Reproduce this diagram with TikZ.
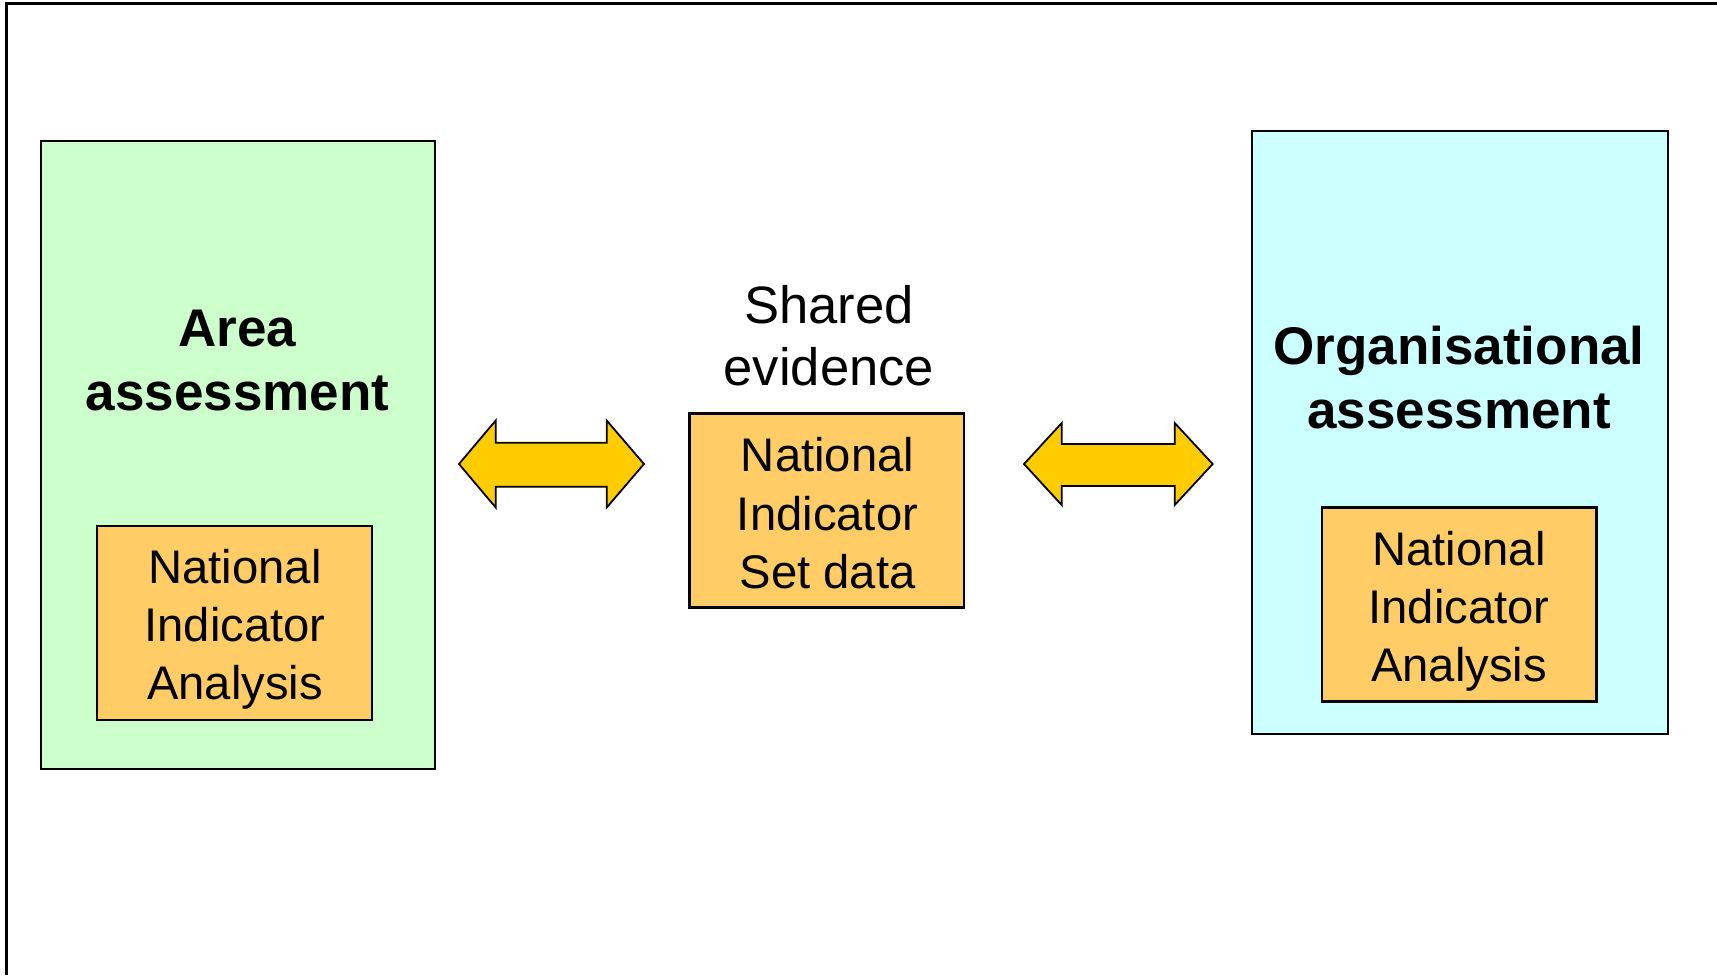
\documentclass[tikz,border=0pt]{standalone}
\usepackage{fontspec}
\setmainfont{Liberation Sans}
\usepackage{tikz}
\usetikzlibrary{positioning}

\definecolor{areagreen}{HTML}{CCFFCC}
\definecolor{orgcyan}{HTML}{CCFFFF}
\definecolor{nisorange}{HTML}{FFCC66}
\definecolor{arrowgold}{HTML}{FFCC00}

\tikzset{
  outerbox/.style={draw=black,line width=1pt,inner sep=0pt},
  nisbox/.style={draw=black,line width=1.1pt,fill=nisorange,inner sep=0pt,
    minimum width=137.3pt,minimum height=97pt},
  titletext/.style={inner sep=0pt,align=center,
    font=\fontsize{26.5pt}{32pt}\selectfont\bfseries},
  nistext/.style={inner sep=0pt,align=center,
    font=\fontsize{23.6pt}{28.9pt}\selectfont},
  blockarrow/.style={draw=black,line width=0.9pt,fill=arrowgold,line join=miter},
  frameline/.style={draw=black,line width=1.3pt}
}

\begin{document}
\begin{tikzpicture}[x=0.5pt,y=-0.5pt]
  \useasboundingbox (0,0) rectangle (1717,975);

  % slide frame
  \draw[frameline] (6.7,975) -- (6.7,3.3) -- (1717,3.3);

  % Left: area assessment
  \node[outerbox,fill=areagreen,minimum width=197.2pt,minimum height=314.2pt]
    (area) at (237.9,454.9) {};
  \node[titletext] (areatitle) at (237.5,361) {Area\\assessment};
  \node[nisbox] (areanis) at (234.5,623.2) {};
  \node[nistext] (areanistext) at (235,629.1) {National\\Indicator\\Analysis};

  % Middle: shared evidence
  \node[inner sep=0pt,align=center,font=\fontsize{26.3pt}{30.9pt}\selectfont]
    (shared) at (829,335.5) {Shared\\evidence};
  \node[nisbox] (setdata) at (826.8,510.4) {};
  \node[nistext,font=\fontsize{23.6pt}{29.2pt}\selectfont]
    (setdatatext) at (827.5,513.4) {National\\Indicator\\Set data};

  % Right: organisational assessment
  \node[outerbox,fill=orgcyan,minimum width=208.4pt,minimum height=301.7pt]
    (org) at (1460,432.7) {};
  \node[titletext] (orgtitle) at (1459,378) {Organisational\\assessment};
  \node[nisbox] (orgnis) at (1459.2,604.5) {};
  \node[nistext] (orgnistext) at (1459,611) {National\\Indicator\\Analysis};

  % two-way arrows
  \draw[blockarrow] (459,464) -- (495.7,420.5) -- (495.7,442.7) -- (606.7,442.7)
    -- (606.7,420.5) -- (644,464) -- (606.7,507.5) -- (606.7,486.7)
    -- (495.7,486.7) -- (495.7,507.5) -- cycle;
  \draw[blockarrow] (1024,464) -- (1061.7,423) -- (1061.7,444) -- (1174.7,444)
    -- (1174.7,423) -- (1212.7,464) -- (1174.7,505) -- (1174.7,486)
    -- (1061.7,486) -- (1061.7,505) -- cycle;
\end{tikzpicture}
\end{document}
